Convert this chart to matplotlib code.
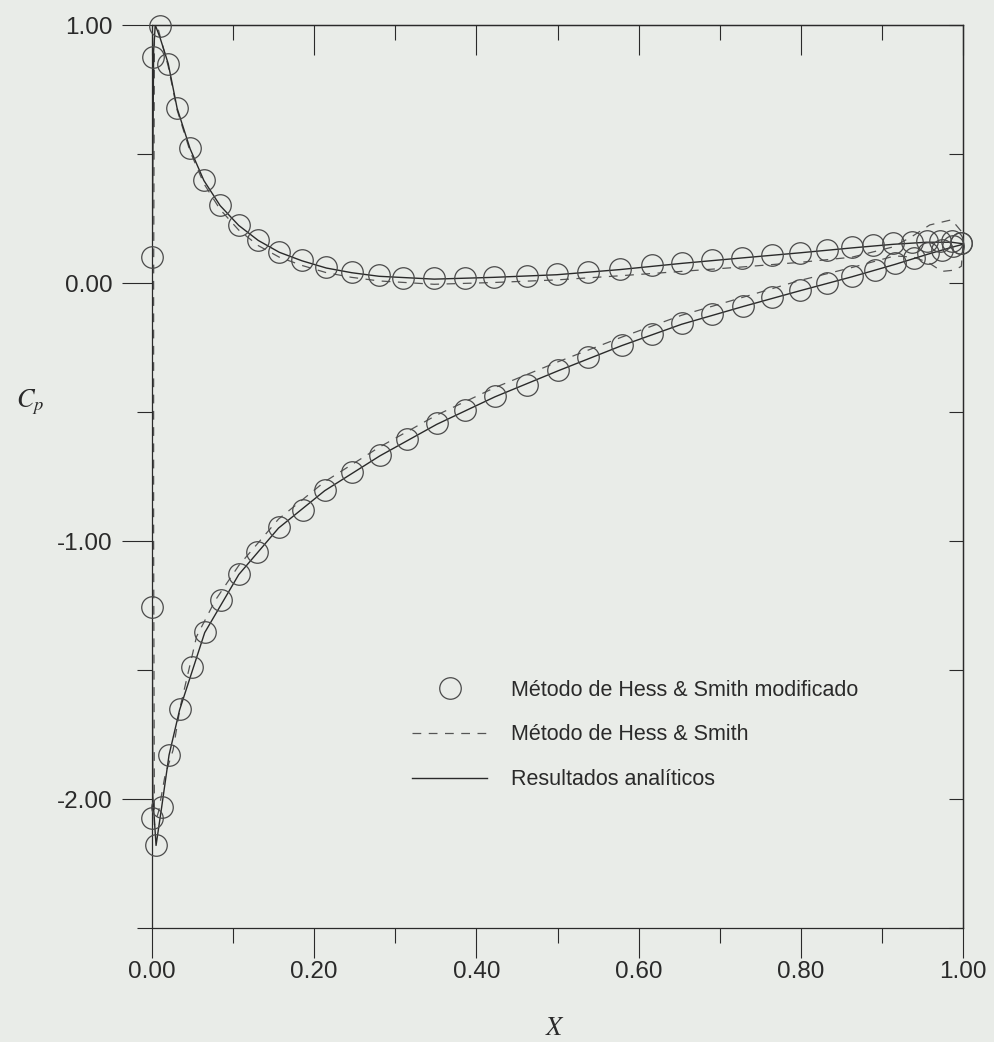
import matplotlib
matplotlib.use("Agg")
import matplotlib.pyplot as plt
from matplotlib.lines import Line2D

# modified Hess & Smith (circles): lower surface then upper surface
x_mod_lower = [0.000, 0.005, 0.012, 0.021, 0.034, 0.049, 0.065, 0.085, 0.107, 0.130,
               0.156, 0.186, 0.213, 0.246, 0.281, 0.314, 0.351, 0.386, 0.423, 0.462,
               0.501, 0.538, 0.579, 0.617, 0.653, 0.691, 0.729, 0.764, 0.799, 0.832,
               0.863, 0.891, 0.916, 0.939, 0.957, 0.974, 0.988, 0.998]
cp_mod_lower = [-2.075, -2.178, -2.030, -1.829, -1.652, -1.487, -1.351, -1.229, -1.128, -1.044,
                -0.947, -0.878, -0.802, -0.731, -0.667, -0.606, -0.544, -0.492, -0.438, -0.395,
                -0.337, -0.286, -0.240, -0.198, -0.156, -0.121, -0.088, -0.055, -0.027, 0.001,
                0.027, 0.050, 0.076, 0.096, 0.115, 0.128, 0.143, 0.154]
x_mod_le = [0.000, 0.000]
cp_mod_le = [-1.257, 0.100]
x_mod_upper = [0.001, 0.010, 0.020, 0.031, 0.047, 0.064, 0.084, 0.107, 0.131, 0.157,
               0.185, 0.215, 0.246, 0.280, 0.310, 0.348, 0.386, 0.422, 0.462, 0.499,
               0.538, 0.577, 0.617, 0.653, 0.691, 0.727, 0.764, 0.799, 0.832, 0.863,
               0.889, 0.914, 0.937, 0.955, 0.972, 0.986, 0.998]
cp_mod_upper = [0.876, 0.995, 0.848, 0.677, 0.522, 0.399, 0.302, 0.225, 0.167, 0.121,
                0.089, 0.061, 0.044, 0.030, 0.018, 0.018, 0.021, 0.025, 0.027, 0.034,
                0.044, 0.053, 0.068, 0.078, 0.089, 0.098, 0.109, 0.118, 0.128, 0.138,
                0.147, 0.154, 0.160, 0.163, 0.163, 0.161, 0.156]

# Hess & Smith (dashed), trailing edge -> lower -> leading edge -> upper -> trailing edge
x_hs = [1.000, 0.998, 0.990, 0.974, 0.957, 0.939, 0.916, 0.863, 0.799, 0.729,
        0.653, 0.579, 0.501, 0.423, 0.351, 0.281, 0.213, 0.156, 0.107, 0.078,
        0.055, 0.035, 0.026, 0.016, 0.008, 0.003, 0.002, 0.002, 0.003, 0.008,
        0.020, 0.031, 0.047, 0.064, 0.084, 0.107, 0.131, 0.157, 0.185, 0.215,
        0.246, 0.280, 0.348, 0.422, 0.499, 0.577, 0.653, 0.727, 0.799, 0.863,
        0.914, 0.937, 0.959, 0.986, 0.998, 1.000]
cp_hs = [0.150, 0.065, 0.050, 0.045, 0.080, 0.100, 0.105, 0.060, 0.010, -0.055,
         -0.125, -0.210, -0.305, -0.405, -0.512, -0.635, -0.770, -0.915, -1.095, -1.230,
         -1.370, -1.640, -1.810, -1.910, -2.050, -2.100, -1.000, 0.000, 0.950, 0.980,
         0.840, 0.670, 0.510, 0.385, 0.285, 0.205, 0.145, 0.100, 0.068, 0.040,
         0.022, 0.008, -0.005, 0.002, 0.012, 0.028, 0.045, 0.062, 0.080, 0.100,
         0.140, 0.180, 0.225, 0.245, 0.200, 0.160]

# analytical solution (solid)
x_an = [1.000, 0.988, 0.957, 0.916, 0.863, 0.799, 0.729, 0.653, 0.579, 0.501,
        0.423, 0.351, 0.281, 0.213, 0.156, 0.107, 0.065, 0.034, 0.021, 0.012,
        0.005, 0.001, 0.000, 0.000, 0.002, 0.004, 0.010, 0.020, 0.031, 0.047,
        0.064, 0.084, 0.107, 0.131, 0.157, 0.185, 0.215, 0.246, 0.280, 0.348,
        0.422, 0.499, 0.577, 0.653, 0.727, 0.799, 0.863, 0.914, 0.955, 0.986, 1.000]
cp_an = [0.150, 0.140, 0.112, 0.072, 0.024, -0.030, -0.091, -0.160, -0.243, -0.340,
         -0.441, -0.548, -0.670, -0.805, -0.950, -1.130, -1.355, -1.655, -1.830, -2.030,
         -2.180, -1.990, -1.000, 0.000, 0.900, 1.000, 0.950, 0.850, 0.677, 0.520,
         0.397, 0.300, 0.223, 0.165, 0.119, 0.086, 0.058, 0.040, 0.026, 0.015,
         0.022, 0.032, 0.052, 0.076, 0.097, 0.117, 0.136, 0.150, 0.158, 0.158, 0.152]

x_major = [0.0, 0.2, 0.4, 0.6, 0.8, 1.0]
x_minor = [0.1, 0.3, 0.5, 0.7, 0.9]
x_labels = ["0.00", "0.20", "0.40", "0.60", "0.80", "1.00"]
y_major = [1.0, 0.0, -1.0, -2.0]
y_minor = [0.5, -0.5, -1.5, -2.5]
y_labels = ["1.00", "0.00", "-1.00", "-2.00"]

legend_labels = ["Método de Hess & Smith modificado", "Método de Hess & Smith",
                 "Resultados analíticos"]

plt.rcParams["font.family"] = ["Liberation Sans", "DejaVu Sans"]
plt.rcParams["mathtext.fontset"] = "stix"

bg = "#e9ece8"
ink = "#2a2a2a"
fig = plt.figure(figsize=(9.95, 10.42), dpi=100, facecolor=bg)
ax = fig.add_axes([152 / 995, 1 - 928 / 1042, 811 / 995, 903 / 1042], facecolor=bg)

ax.plot(x_an, cp_an, color=ink, lw=1.0, zorder=3)
ax.plot(x_hs, cp_hs, color="#555555", lw=0.9, dashes=(7, 6), zorder=2)
mk = dict(ls="none", marker="o", ms=15.5, mfc="none", mec="#4a4a4a", mew=0.9,
          zorder=4, clip_on=False)
ax.plot(x_mod_lower, cp_mod_lower, **mk)
ax.plot(x_mod_le, cp_mod_le, **mk)
ax.plot(x_mod_upper, cp_mod_upper, **mk)

ax.set_xlim(0, 1)
ax.set_ylim(-2.5, 1.0)
for s in ax.spines.values():
    s.set_color(ink)
    s.set_linewidth(0.9)

ax.set_xticks(x_major, x_labels)
ax.set_xticks(x_minor, minor=True)
ax.set_yticks(y_major, y_labels)
ax.set_yticks(y_minor, minor=True)
ax.tick_params(which="major", direction="out", length=21.5, width=0.8, color=ink,
               labelsize=17.5, labelcolor=ink, top=False, right=False)
ax.tick_params(which="minor", direction="out", length=11, width=0.8, color=ink,
               top=False, right=False)
ax.tick_params(axis="x", which="major", pad=2)
ax.tick_params(axis="y", which="major", pad=7)

# top and right axes carry inward ticks
secx = ax.secondary_xaxis("top")
secx.set_xticks(x_major, [""] * len(x_major))
secx.set_xticks(x_minor, minor=True)
secx.tick_params(which="major", direction="in", length=21.5, width=0.8, color=ink)
secx.tick_params(which="minor", direction="in", length=10.5, width=0.8, color=ink)
secy = ax.secondary_yaxis("right")
secy.set_yticks(y_major, [""] * len(y_major))
secy.set_yticks(y_minor, minor=True)
secy.tick_params(which="both", direction="in", length=10, width=0.8, color=ink)
for sa in (secx, secy):
    for s in sa.spines.values():
        s.set_color(ink)
        s.set_linewidth(0.9)

ax.set_xlabel(r"$X$", fontsize=19, color=ink)
ax.xaxis.set_label_coords(0.497, -0.098)
ax.set_ylabel(r"$C_p$", fontsize=19, color=ink, rotation=0)
ax.yaxis.set_label_coords(-0.150, 0.566)

handles = [
    Line2D([], [], ls="none", marker="o", ms=15.5, mfc="none", mec="#4a4a4a", mew=0.9),
    Line2D([], [], color="#555555", lw=0.9, dashes=(7, 6)),
    Line2D([], [], color=ink, lw=1.0),
]
ax.legend(handles, legend_labels, loc="upper left", bbox_to_anchor=(0.3206, 0.275),
          frameon=False, fontsize=15.5, handlelength=3.5, handletextpad=1.1,
          labelspacing=1.1, borderpad=0, borderaxespad=0, labelcolor=ink)

fig.savefig("out.png", dpi=100, facecolor=bg)
